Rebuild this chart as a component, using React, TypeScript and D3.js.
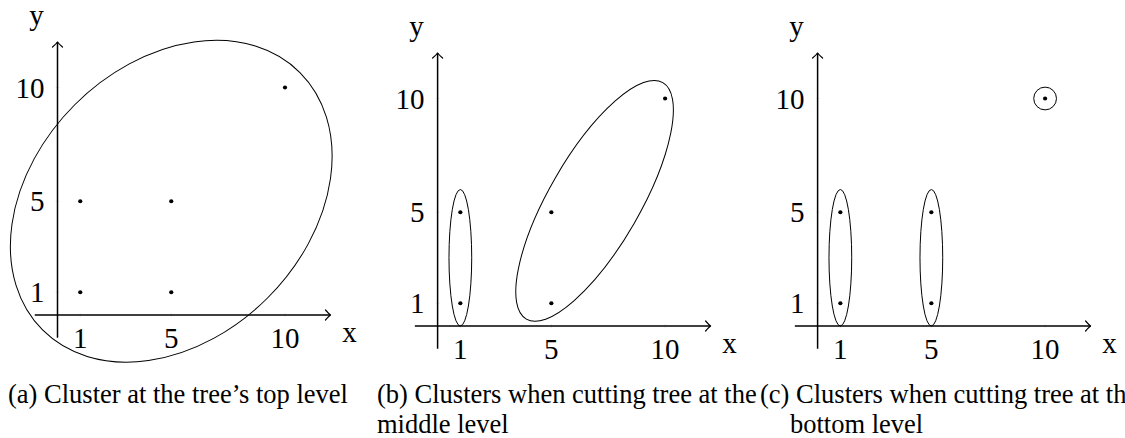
import React from "react";
import * as d3 from "d3";

// Sample points shared by all three panels
const pointX = [1, 1, 5, 5, 10];
const pointY = [1, 5, 1, 5, 10];

// Tick values on both axes
const tickValues = [1, 5, 10];

// Cluster outlines per panel, in data units: centre, semi-axes, rotation (deg)
const clustersTop = [{ cx: 5, cy: 5, rx: 8, ry: 6, angle: 45 }];
const clustersMiddle = [
  { cx: 1, cy: 3, rx: 0.5, ry: 3, angle: 0 },
  { cx: 6.9, cy: 5.5, rx: 6, ry: 2, angle: 60 },
];
const clustersBottom = [
  { cx: 1, cy: 3, rx: 0.5, ry: 3, angle: 0 },
  { cx: 5, cy: 3, rx: 0.5, ry: 3, angle: 0 },
  { cx: 10, cy: 10, rx: 0.5, ry: 0.5, angle: 0 },
];

const captionLines = [
  ["(a) Cluster at the tree\u2019s top level"],
  ["(b) Clusters when cutting tree at the", "middle level"],
  ["(c) Clusters when cutting tree at the", "bottom level"],
];

const W = 1125;
const H = 438;
const UNIT = 22.75;
const SERIF = "'Liberation Serif', 'Times New Roman', serif";

type Cluster = { cx: number; cy: number; rx: number; ry: number; angle: number };

function Panel({ ox, oy, clusters }: { ox: number; oy: number; clusters: Cluster[] }) {
  const x = d3.scaleLinear().domain([0, 10]).range([ox, ox + 10 * UNIT]);
  const y = d3.scaleLinear().domain([0, 10]).range([oy, oy - 10 * UNIT]);
  const x0 = x(0);
  const y0 = y(0);
  const xEnd = x(12);
  const yEnd = y(12);
  const arrow = (d: string) => (
    <path d={d} fill="none" stroke="#000" strokeWidth={1.2} strokeLinecap="round" strokeLinejoin="round" />
  );
  return (
    <g>
      {/* axes */}
      <line x1={x(-1)} y1={y0} x2={xEnd} y2={y0} stroke="#000" strokeWidth={1.5} />
      <line x1={x0} y1={y(-1)} x2={x0} y2={yEnd} stroke="#000" strokeWidth={1.5} />
      {arrow(`M${xEnd - 5},${y0 - 5} Q${xEnd - 1.5},${y0 - 1} ${xEnd},${y0} Q${xEnd - 1.5},${y0 + 1} ${xEnd - 5},${y0 + 5}`)}
      {arrow(`M${x0 - 5},${yEnd + 5} Q${x0 - 1},${yEnd + 1.5} ${x0},${yEnd} Q${x0 + 1},${yEnd + 1.5} ${x0 + 5},${yEnd + 5}`)}
      {/* faint ticks */}
      {tickValues.map((t) => (
        <g key={"t" + t} stroke="#000" strokeOpacity={0.15} strokeWidth={0.6}>
          <line x1={x(t)} y1={y0 - 2} x2={x(t)} y2={y0 + 2} />
          <line x1={x0 - 2} y1={y(t)} x2={x0 + 2} y2={y(t)} />
        </g>
      ))}
      {/* tick labels */}
      <g fontFamily={SERIF} fontSize={29} fill="#000">
        {tickValues.map((t) => (
          <text key={"xl" + t} x={x(t)} y={y0 + 33} textAnchor="middle">
            {t}
          </text>
        ))}
        {tickValues.map((t) => (
          <text key={"yl" + t} x={x0 - 13} y={y(t) + 10} textAnchor="end">
            {t}
          </text>
        ))}
        <text x={x(12) + 19} y={y0 + 27} textAnchor="middle">x</text>
        <text x={x0 - 21} y={y(12) - 17} textAnchor="middle">y</text>
      </g>
      {/* cluster outlines */}
      {clusters.map((c, i) => (
        <ellipse
          key={"c" + i}
          cx={x(c.cx)}
          cy={y(c.cy)}
          rx={x(c.rx) - x(0)}
          ry={y(0) - y(c.ry)}
          transform={`rotate(${-c.angle} ${x(c.cx)} ${y(c.cy)})`}
          fill="none"
          stroke="#000"
          strokeWidth={1}
        />
      ))}
      {/* points */}
      {pointX.map((px, i) => (
        <circle key={"p" + i} cx={x(px)} cy={y(pointY[i])} r={2.1} fill="#000" />
      ))}
    </g>
  );
}

export default function App() {
  const captionPos = [
    [{ x: 8, y: 403 }],
    [{ x: 377, y: 403 }, { x: 377, y: 433 }],
    [{ x: 760, y: 403 }, { x: 790, y: 433 }],
  ];
  return (
    <div style={{ position: "absolute", left: 0, top: 0 }}>
      <svg width={W} height={H} viewBox={`0 0 ${W} ${H}`} style={{ display: "block", background: "#fff" }}>
        <rect width={W} height={H} fill="#fff" />
        <Panel ox={57.5} oy={315} clusters={clustersTop} />
        <Panel ox={437.6} oy={326} clusters={clustersMiddle} />
        <Panel ox={817.6} oy={326} clusters={clustersBottom} />
        <g fontFamily={SERIF} fontSize={26.5} fill="#000">
          {captionLines.map((lines, i) =>
            lines.map((line, j) => (
              <text key={i + "-" + j} x={captionPos[i][j].x} y={captionPos[i][j].y}>
                {line}
              </text>
            ))
          )}
        </g>
      </svg>
    </div>
  );
}
